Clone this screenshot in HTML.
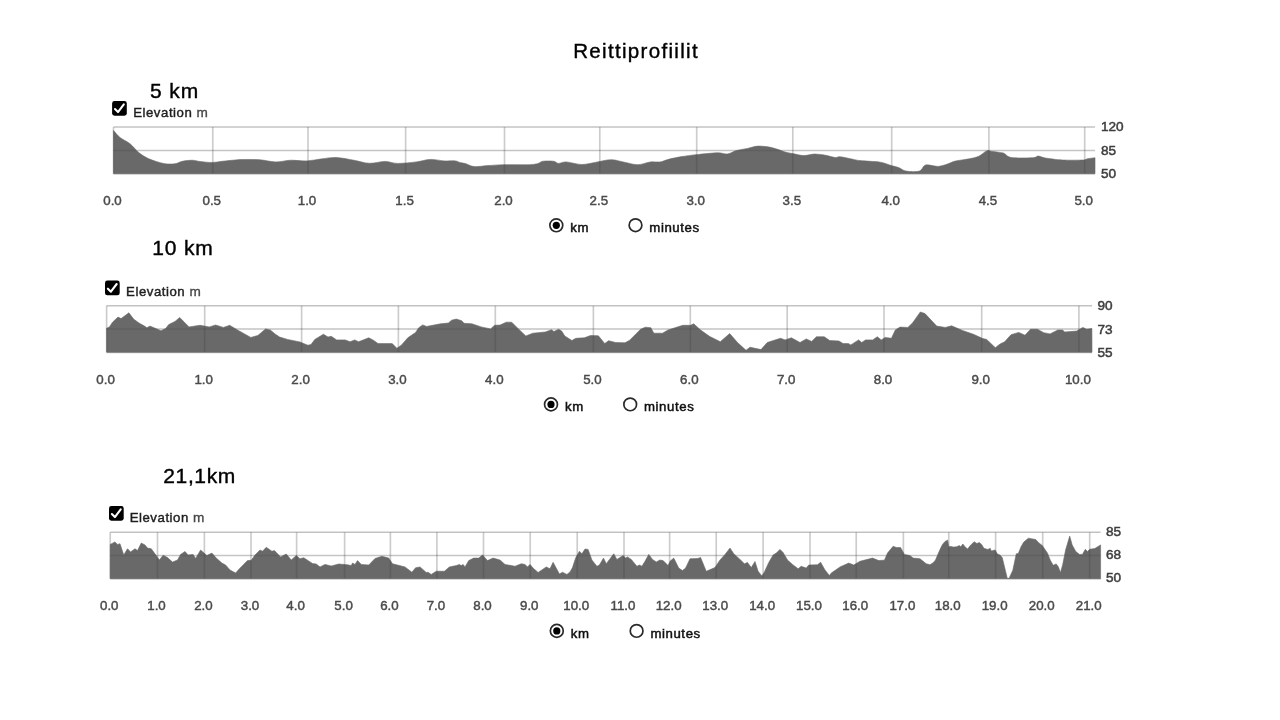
<!DOCTYPE html>
<html lang="fi">
<head>
<meta charset="utf-8">
<title>Reittiprofiilit</title>
<style>
html,body{margin:0;padding:0;background:#fff;}
body{width:1280px;height:720px;position:relative;overflow:hidden;font-family:"Liberation Sans",sans-serif;}
h1,h2{margin:0;font-weight:normal;-webkit-text-stroke:.4px #000;position:absolute;white-space:nowrap;color:#000;line-height:1;}
h1{font-size:20.5px;letter-spacing:1.32px;}
h2{font-size:21px;}
svg{position:absolute;left:0;top:0;filter:blur(.4px);}
h1,h2{filter:blur(.35px);}
svg text{font-family:"Liberation Sans",sans-serif;}
.xl text{font-size:13.3px;fill:#4a4a4a;stroke:#4a4a4a;stroke-width:.45px;text-anchor:middle;}
.yl text{font-size:13.6px;fill:#3e3e3e;stroke:#3e3e3e;stroke-width:.5px;}
.lg{font-size:13.2px;fill:#1e1e1e;stroke:#1e1e1e;stroke-width:.42px;letter-spacing:.54px;}
.lg tspan{fill:#484848;stroke:#484848;stroke-width:.36px;font-size:13.6px;}
.rl{font-size:13.2px;fill:#111;stroke:#111;stroke-width:.5px;letter-spacing:.6px;}
</style>
</head>
<body>
<h1 style="left:573.2px;top:41px">Reittiprofiilit</h1>
<h2 style="left:150px;top:79.8px;letter-spacing:0.9px">5 km</h2>
<h2 style="left:152.2px;top:237.4px;letter-spacing:0.85px">10 km</h2>
<h2 style="left:163.3px;top:465.4px;letter-spacing:0.62px">21,1km</h2>
<svg width="1280" height="720" viewBox="0 0 1280 720">
<g>
<line x1="113.5" y1="127.1" x2="1095" y2="127.1" stroke="#000" stroke-opacity="0.24" stroke-width="1.5"/>
<line x1="113.5" y1="150.4" x2="1095" y2="150.4" stroke="#000" stroke-opacity="0.17" stroke-width="1.5"/>
<line x1="113.5" y1="173.8" x2="1095" y2="173.8" stroke="#000" stroke-opacity="0.24" stroke-width="1.5"/>
<line x1="113.5" y1="127.1" x2="113.5" y2="173.4" stroke="#000" stroke-opacity=".105" stroke-width="1.7"/>
<line x1="212.75" y1="127.1" x2="212.75" y2="173.4" stroke="#000" stroke-opacity=".105" stroke-width="1.7"/>
<line x1="308" y1="127.1" x2="308" y2="173.4" stroke="#000" stroke-opacity=".105" stroke-width="1.7"/>
<line x1="405.6" y1="127.1" x2="405.6" y2="173.4" stroke="#000" stroke-opacity=".105" stroke-width="1.7"/>
<line x1="504.5" y1="127.1" x2="504.5" y2="173.4" stroke="#000" stroke-opacity=".105" stroke-width="1.7"/>
<line x1="599.8" y1="127.1" x2="599.8" y2="173.4" stroke="#000" stroke-opacity=".105" stroke-width="1.7"/>
<line x1="696.7" y1="127.1" x2="696.7" y2="173.4" stroke="#000" stroke-opacity=".105" stroke-width="1.7"/>
<line x1="792.8" y1="127.1" x2="792.8" y2="173.4" stroke="#000" stroke-opacity=".105" stroke-width="1.7"/>
<line x1="891.7" y1="127.1" x2="891.7" y2="173.4" stroke="#000" stroke-opacity=".105" stroke-width="1.7"/>
<line x1="988.9" y1="127.1" x2="988.9" y2="173.4" stroke="#000" stroke-opacity=".105" stroke-width="1.7"/>
<line x1="1084.7" y1="127.1" x2="1084.7" y2="173.4" stroke="#000" stroke-opacity=".105" stroke-width="1.7"/>
<path d="M113.5 173.7L113.5 130.6C114.54 131.7 117.36 135.4 120 137.5C122.64 139.6 127 141.35 130 143.75C133 146.15 135.75 150.1 138.75 152.5C141.75 154.9 144.75 156.99 148.75 158.75C152.75 160.51 159.55 162.7 163.75 163.5C167.95 164.3 172 164.11 175 163.75C178 163.39 179.7 161.81 182.5 161.25C185.3 160.69 189.7 160.21 192.5 160.25C195.3 160.29 196.8 161.14 200 161.5C203.2 161.86 208.9 162.54 212.5 162.5C216.1 162.46 218.9 161.65 222.5 161.25C226.1 160.85 231.8 160.28 235 160C238.2 159.72 238.5 159.53 242.5 159.5C246.5 159.47 254.7 159.42 260 159.8C265.3 160.18 270.64 161.84 275.6 161.9C280.56 161.96 285.98 160.36 291 160.2C296.02 160.04 301.96 161.13 307 160.9C312.04 160.67 317.78 159.29 322.5 158.75C327.22 158.21 331.5 157.27 336.5 157.5C341.5 157.73 348.49 159.27 353.75 160.2C359.01 161.13 364.4 163.11 369.4 163.3C374.4 163.49 380.5 161.38 385 161.4C389.5 161.42 392.5 163.32 397.5 163.4C402.5 163.48 411 162.54 416.25 161.9C421.5 161.26 425.8 159.56 430.3 159.4C434.8 159.24 440.4 160.66 444.4 160.9C448.4 161.14 452.8 160.64 455.3 160.9C457.8 161.16 458.29 162.04 460 162.5C461.71 162.96 463.76 163.09 466 163.75C468.24 164.41 470.48 166.3 474 166.6C477.52 166.9 483.24 165.9 488 165.6C492.76 165.3 497.23 164.84 503.75 164.7C510.27 164.56 523.27 164.91 528.75 164.7C534.23 164.49 535.75 163.95 538 163.4C540.25 162.85 540.28 161.59 542.8 161.25C545.32 160.91 551.25 160.91 553.75 161.25C556.25 161.59 556.4 163.3 558.4 163.4C560.4 163.5 562.49 161.72 566.25 161.9C570.01 162.08 576.9 164.5 581.9 164.5C586.9 164.5 592.76 162.67 597.5 161.9C602.24 161.13 607 159.6 611.5 159.7C616 159.8 621.36 161.7 625.6 162.5C629.84 163.3 634 164.8 638 164.7C642 164.6 647.08 162.33 650.6 161.9C654.12 161.47 656.99 162.45 660 162C663.01 161.55 665.9 159.96 669.4 159.1C672.9 158.24 677.64 157.3 681.9 156.6C686.16 155.9 690.26 155.31 696 154.7C701.74 154.09 712.81 152.91 717.8 152.8C722.79 152.69 724.19 154.37 727.2 154C730.21 153.63 733.35 151.4 736.6 150.5C739.85 149.6 744.01 149.1 747.5 148.4C750.99 147.7 754.4 146.2 758.4 146.1C762.4 146 768.24 146.86 772.5 147.8C776.76 148.74 781.75 151.07 785 152C788.25 152.93 789.8 153.02 792.8 153.6C795.8 154.18 800.25 155.54 803.75 155.6C807.25 155.66 811.2 154.05 814.7 154C818.2 153.95 822.35 154.74 825.6 155.3C828.85 155.86 832.74 157.28 835 157.5C837.26 157.72 837.2 156.5 839.7 156.7C842.2 156.9 847.35 158.13 850.6 158.75C853.85 159.37 855.25 160.05 860 160.6C864.75 161.15 875.3 161.4 880.3 162.2C885.3 163 888.26 164.72 891.25 165.6C894.24 166.48 896.64 166.82 899 167.7C901.36 168.58 902.74 170.56 906 171.1C909.26 171.64 916.26 172.08 919.4 171.1C922.54 170.12 922.62 165.75 925.6 165C928.58 164.25 934.5 166.56 938 166.4C941.5 166.24 944.73 164.85 947.5 164C950.27 163.15 951.8 161.94 955.3 161.1C958.8 160.26 965.65 159.53 969.4 158.75C973.15 157.97 976 157.51 978.75 156.25C981.5 154.99 984.6 151.7 986.6 150.9C988.6 150.1 988.79 150.95 991.25 151.25C993.71 151.55 999.85 152.4 1002 152.8C1004.15 153.2 1003.15 152.98 1004.7 153.75C1006.25 154.52 1007.2 156.97 1011.7 157.6C1016.2 158.23 1028.54 157.94 1032.8 157.7C1037.06 157.46 1036.3 156.05 1038.3 156.1C1040.3 156.15 1041.43 157.38 1045.3 158C1049.17 158.62 1056.5 159.68 1062.5 160C1068.5 160.32 1078.8 160.2 1082.8 160C1086.8 159.8 1085.55 159.12 1087.5 158.75C1089.45 158.38 1093.8 157.87 1095 157.7L1095 173.7Z" fill="#696969" stroke="#696969" stroke-width=".6" stroke-linejoin="round"/>
<line x1="113.5" y1="150.4" x2="1095" y2="150.4" stroke="#000" stroke-opacity=".08" stroke-width="1.5"/>
<line x1="113.5" y1="127.1" x2="113.5" y2="173.4" stroke="#000" stroke-opacity=".105" stroke-width="1.7"/>
<line x1="212.75" y1="127.1" x2="212.75" y2="173.4" stroke="#000" stroke-opacity=".105" stroke-width="1.7"/>
<line x1="308" y1="127.1" x2="308" y2="173.4" stroke="#000" stroke-opacity=".105" stroke-width="1.7"/>
<line x1="405.6" y1="127.1" x2="405.6" y2="173.4" stroke="#000" stroke-opacity=".105" stroke-width="1.7"/>
<line x1="504.5" y1="127.1" x2="504.5" y2="173.4" stroke="#000" stroke-opacity=".105" stroke-width="1.7"/>
<line x1="599.8" y1="127.1" x2="599.8" y2="173.4" stroke="#000" stroke-opacity=".105" stroke-width="1.7"/>
<line x1="696.7" y1="127.1" x2="696.7" y2="173.4" stroke="#000" stroke-opacity=".105" stroke-width="1.7"/>
<line x1="792.8" y1="127.1" x2="792.8" y2="173.4" stroke="#000" stroke-opacity=".105" stroke-width="1.7"/>
<line x1="891.7" y1="127.1" x2="891.7" y2="173.4" stroke="#000" stroke-opacity=".105" stroke-width="1.7"/>
<line x1="988.9" y1="127.1" x2="988.9" y2="173.4" stroke="#000" stroke-opacity=".105" stroke-width="1.7"/>
<line x1="1084.7" y1="127.1" x2="1084.7" y2="173.4" stroke="#000" stroke-opacity=".105" stroke-width="1.7"/>
<g class="xl"><text x="112.5" y="204.8">0.0</text><text x="211.75" y="204.8">0.5</text><text x="307" y="204.8">1.0</text><text x="404.6" y="204.8">1.5</text><text x="503.5" y="204.8">2.0</text><text x="598.8" y="204.8">2.5</text><text x="695.7" y="204.8">3.0</text><text x="791.8" y="204.8">3.5</text><text x="890.7" y="204.8">4.0</text><text x="987.9" y="204.8">4.5</text><text x="1083.7" y="204.8">5.0</text></g>
<g class="yl"><text x="1101" y="131.4">120</text><text x="1101" y="154.7">85</text><text x="1101" y="177.7">50</text></g>
<rect x="112.1" y="101" width="14.7" height="14.7" rx="2.4" fill="#000"/><path d="M115 109.1L118 112.1L123.8 104.4" fill="none" stroke="#fff" stroke-width="2.1" stroke-linecap="round" stroke-linejoin="round"/>
<text class="lg" x="133.2" y="116.9">Elevation <tspan>m</tspan></text>
<circle cx="556.3" cy="225.3" r="6.45" fill="#fff" stroke="#2a2a2a" stroke-width="1.7"/><circle cx="556.3" cy="225.3" r="3.6" fill="#000"/><text class="rl" x="570.3" y="232.3">km</text><circle cx="635.5" cy="225.2" r="6.35" fill="#fff" stroke="#2a2a2a" stroke-width="1.7"/><text class="rl" x="649.3" y="232.2">minutes</text>
</g>
<g>
<line x1="106.6" y1="305.8" x2="1092" y2="305.8" stroke="#000" stroke-opacity="0.24" stroke-width="1.5"/>
<line x1="106.6" y1="328.9" x2="1092" y2="328.9" stroke="#000" stroke-opacity="0.17" stroke-width="1.5"/>
<line x1="106.6" y1="352.4" x2="1092" y2="352.4" stroke="#000" stroke-opacity="0.24" stroke-width="1.5"/>
<line x1="106.6" y1="305.8" x2="106.6" y2="352" stroke="#000" stroke-opacity=".105" stroke-width="1.7"/>
<line x1="204.7" y1="305.8" x2="204.7" y2="352" stroke="#000" stroke-opacity=".105" stroke-width="1.7"/>
<line x1="301.6" y1="305.8" x2="301.6" y2="352" stroke="#000" stroke-opacity=".105" stroke-width="1.7"/>
<line x1="398.4" y1="305.8" x2="398.4" y2="352" stroke="#000" stroke-opacity=".105" stroke-width="1.7"/>
<line x1="495.3" y1="305.8" x2="495.3" y2="352" stroke="#000" stroke-opacity=".105" stroke-width="1.7"/>
<line x1="593.4" y1="305.8" x2="593.4" y2="352" stroke="#000" stroke-opacity=".105" stroke-width="1.7"/>
<line x1="690.3" y1="305.8" x2="690.3" y2="352" stroke="#000" stroke-opacity=".105" stroke-width="1.7"/>
<line x1="787.2" y1="305.8" x2="787.2" y2="352" stroke="#000" stroke-opacity=".105" stroke-width="1.7"/>
<line x1="884" y1="305.8" x2="884" y2="352" stroke="#000" stroke-opacity=".105" stroke-width="1.7"/>
<line x1="981.7" y1="305.8" x2="981.7" y2="352" stroke="#000" stroke-opacity=".105" stroke-width="1.7"/>
<line x1="1078.9" y1="305.8" x2="1078.9" y2="352" stroke="#000" stroke-opacity=".105" stroke-width="1.7"/>
<path d="M106.6 352.3L106.6 328.2 109.4 326.9 112.5 322.2 118 317.1 121.1 318.6 128.9 312.8 133.6 319.1 139 323 144.5 326.1 146.9 327.7 150 326.1 161 330.8 165.6 328.5 168.75 324.6 175 321.4 179.7 317.5 184.4 322.2 189 326.9 200 325.3 209.4 326.9 215.6 325 223.4 327.4 229.7 325.3 237.5 330 250.8 337.4 257.8 335.5 265.6 328.9 270.3 330 275 333.9 279.7 337.1 287.5 339.4 300 342 307.8 345.2 311 344.6 314.8 339.4 323.4 334.25 328 337 331.25 336.3 336.7 339.9 345.3 339.9 350 341.75 354.7 339.9 358.6 341.75 368.75 337.8 373.4 340.2 378 343.6 392.2 343.6 396.9 348.3 401.6 344.9 407.8 337.8 415.6 332.4 418.75 327.7 422.7 324.9 426.6 326.4 440.6 323.8 448.4 323 451.6 320.2 456.25 319.1 461.7 320.7 464 323.3 471.9 323.8 481.25 326.9 490.6 328.9 494.5 325.3 500 325.1 506.25 322.2 511.7 322.2 518.75 329.25 525.8 336 532.8 333.2 545.3 332 551.6 329.7 553.9 331.6 558.6 329.25 561.7 331.1 564.8 336 571.9 340.5 575.8 338.3 584.4 337.8 590.6 335.5 598.4 335.8 604.7 343.6 608.6 340.7 615.6 342.5 625 342.8 629.7 340.2 640.6 329.25 645.3 327.2 650.8 327.7 653.9 333.2 662.5 333.2 668 330 682.8 325.3 690.6 325.3 693.75 323.8 700 329.6 709.4 336.3 720.3 341.75 729.7 333.6 737.5 342.5 746 350.3 750 347.2 761 349.6 767.2 342.5 773.4 340.5 780.5 338.3 785.2 339.9 791.4 337.8 800 342.5 806.25 338.9 811.7 341.4 816.4 336.75 824.2 336.75 829.7 340.5 839 341 843 343.6 848.4 343.6 850.8 344.9 858.6 339.9 861.7 342.5 865.6 339.9 872.7 339.9 877.3 336.75 881.25 339.9 885.2 337.4 891.4 338.3 895.3 330 900 327.1 907.8 327.4 912.5 323 920.3 312 925 313.6 936.7 326.1 945.3 327.4 951.6 325.8 962.5 330.5 973.4 334.25 982.8 338.6 986.7 339.4 995.3 347.7 1000 344.1 1004.7 341.75 1011 334.7 1018.75 332.4 1025 335.2 1030.5 329.25 1037.5 329.25 1043.75 332.7 1050 333.9 1057.8 330 1062.5 330 1064.8 332 1076.6 331.1 1082.8 327.4 1086.7 329.25 1091.9 328.5L1092 352.3Z" fill="#696969" stroke="#696969" stroke-width=".6" stroke-linejoin="round"/>
<line x1="106.6" y1="328.9" x2="1092" y2="328.9" stroke="#000" stroke-opacity=".08" stroke-width="1.5"/>
<line x1="106.6" y1="305.8" x2="106.6" y2="352" stroke="#000" stroke-opacity=".105" stroke-width="1.7"/>
<line x1="204.7" y1="305.8" x2="204.7" y2="352" stroke="#000" stroke-opacity=".105" stroke-width="1.7"/>
<line x1="301.6" y1="305.8" x2="301.6" y2="352" stroke="#000" stroke-opacity=".105" stroke-width="1.7"/>
<line x1="398.4" y1="305.8" x2="398.4" y2="352" stroke="#000" stroke-opacity=".105" stroke-width="1.7"/>
<line x1="495.3" y1="305.8" x2="495.3" y2="352" stroke="#000" stroke-opacity=".105" stroke-width="1.7"/>
<line x1="593.4" y1="305.8" x2="593.4" y2="352" stroke="#000" stroke-opacity=".105" stroke-width="1.7"/>
<line x1="690.3" y1="305.8" x2="690.3" y2="352" stroke="#000" stroke-opacity=".105" stroke-width="1.7"/>
<line x1="787.2" y1="305.8" x2="787.2" y2="352" stroke="#000" stroke-opacity=".105" stroke-width="1.7"/>
<line x1="884" y1="305.8" x2="884" y2="352" stroke="#000" stroke-opacity=".105" stroke-width="1.7"/>
<line x1="981.7" y1="305.8" x2="981.7" y2="352" stroke="#000" stroke-opacity=".105" stroke-width="1.7"/>
<line x1="1078.9" y1="305.8" x2="1078.9" y2="352" stroke="#000" stroke-opacity=".105" stroke-width="1.7"/>
<g class="xl"><text x="105.6" y="383.8">0.0</text><text x="203.7" y="383.8">1.0</text><text x="300.6" y="383.8">2.0</text><text x="397.4" y="383.8">3.0</text><text x="494.3" y="383.8">4.0</text><text x="592.4" y="383.8">5.0</text><text x="689.3" y="383.8">6.0</text><text x="786.2" y="383.8">7.0</text><text x="883" y="383.8">8.0</text><text x="980.7" y="383.8">9.0</text><text x="1077.9" y="383.8">10.0</text></g>
<g class="yl"><text x="1097.4" y="310.4">90</text><text x="1097.4" y="333.5">73</text><text x="1097.4" y="356.6">55</text></g>
<rect x="105" y="280.6" width="14.7" height="14.7" rx="2.4" fill="#000"/><path d="M107.9 288.7L110.9 291.7L116.7 284" fill="none" stroke="#fff" stroke-width="2.1" stroke-linecap="round" stroke-linejoin="round"/>
<text class="lg" x="126.1" y="296">Elevation <tspan>m</tspan></text>
<circle cx="551" cy="404.4" r="6.45" fill="#fff" stroke="#2a2a2a" stroke-width="1.7"/><circle cx="551" cy="404.4" r="3.6" fill="#000"/><text class="rl" x="565" y="411.4">km</text><circle cx="630.2" cy="404.4" r="6.35" fill="#fff" stroke="#2a2a2a" stroke-width="1.7"/><text class="rl" x="644" y="411.4">minutes</text>
</g>
<g>
<line x1="110.25" y1="532.3" x2="1100.6" y2="532.3" stroke="#000" stroke-opacity="0.24" stroke-width="1.5"/>
<line x1="110.25" y1="555.4" x2="1100.6" y2="555.4" stroke="#000" stroke-opacity="0.17" stroke-width="1.5"/>
<line x1="110.25" y1="578.8" x2="1100.6" y2="578.8" stroke="#000" stroke-opacity="0.24" stroke-width="1.5"/>
<line x1="110.25" y1="532.3" x2="110.25" y2="578.4" stroke="#000" stroke-opacity=".105" stroke-width="1.7"/>
<line x1="157.5" y1="532.3" x2="157.5" y2="578.4" stroke="#000" stroke-opacity=".105" stroke-width="1.7"/>
<line x1="204.4" y1="532.3" x2="204.4" y2="578.4" stroke="#000" stroke-opacity=".105" stroke-width="1.7"/>
<line x1="251" y1="532.3" x2="251" y2="578.4" stroke="#000" stroke-opacity=".105" stroke-width="1.7"/>
<line x1="296.6" y1="532.3" x2="296.6" y2="578.4" stroke="#000" stroke-opacity=".105" stroke-width="1.7"/>
<line x1="344.6" y1="532.3" x2="344.6" y2="578.4" stroke="#000" stroke-opacity=".105" stroke-width="1.7"/>
<line x1="390.4" y1="532.3" x2="390.4" y2="578.4" stroke="#000" stroke-opacity=".105" stroke-width="1.7"/>
<line x1="436.9" y1="532.3" x2="436.9" y2="578.4" stroke="#000" stroke-opacity=".105" stroke-width="1.7"/>
<line x1="483.5" y1="532.3" x2="483.5" y2="578.4" stroke="#000" stroke-opacity=".105" stroke-width="1.7"/>
<line x1="530.25" y1="532.3" x2="530.25" y2="578.4" stroke="#000" stroke-opacity=".105" stroke-width="1.7"/>
<line x1="577.25" y1="532.3" x2="577.25" y2="578.4" stroke="#000" stroke-opacity=".105" stroke-width="1.7"/>
<line x1="624" y1="532.3" x2="624" y2="578.4" stroke="#000" stroke-opacity=".105" stroke-width="1.7"/>
<line x1="669.6" y1="532.3" x2="669.6" y2="578.4" stroke="#000" stroke-opacity=".105" stroke-width="1.7"/>
<line x1="716.25" y1="532.3" x2="716.25" y2="578.4" stroke="#000" stroke-opacity=".105" stroke-width="1.7"/>
<line x1="763.1" y1="532.3" x2="763.1" y2="578.4" stroke="#000" stroke-opacity=".105" stroke-width="1.7"/>
<line x1="810" y1="532.3" x2="810" y2="578.4" stroke="#000" stroke-opacity=".105" stroke-width="1.7"/>
<line x1="856.25" y1="532.3" x2="856.25" y2="578.4" stroke="#000" stroke-opacity=".105" stroke-width="1.7"/>
<line x1="903.4" y1="532.3" x2="903.4" y2="578.4" stroke="#000" stroke-opacity=".105" stroke-width="1.7"/>
<line x1="948.75" y1="532.3" x2="948.75" y2="578.4" stroke="#000" stroke-opacity=".105" stroke-width="1.7"/>
<line x1="995.6" y1="532.3" x2="995.6" y2="578.4" stroke="#000" stroke-opacity=".105" stroke-width="1.7"/>
<line x1="1042.7" y1="532.3" x2="1042.7" y2="578.4" stroke="#000" stroke-opacity=".105" stroke-width="1.7"/>
<line x1="1089.7" y1="532.3" x2="1089.7" y2="578.4" stroke="#000" stroke-opacity=".105" stroke-width="1.7"/>
<path d="M110.25 578.7L110.25 544.4 115 541.9 117.5 544.4 120 543.75 123.75 555 127.5 548.75 130.6 551.9 135 548.75 137.5 550.6 141.25 543.1 145 545 147.5 548.1 151.25 548.75 156.25 555.6 159.4 560 163.1 555.25 167.5 557.5 172.5 562.1 177.5 560 180.6 554.4 185 551.5 188.1 555 193.1 554.4 195.6 558.5 200.6 550 206.9 555.6 211.9 553.1 216.25 558.1 221.9 563.1 225.6 565 230 570 235.6 573.1 239.4 568.75 247.5 560.6 251.25 560.25 255 555 260 550 262.5 551.25 266.25 547.25 271.9 551.25 274.4 550.6 280.6 556.9 286.25 554 291.25 560 296.25 555.6 300 558.75 303.75 557.75 312.5 563.5 316.25 564 320 566.9 325 564.4 331.25 566 338.75 564 347.5 564.75 351.25 565.6 352.5 563.1 355 564.4 357.5 560.6 361.25 564.4 368.75 565 375 558.5 381.9 556.25 388.75 558.1 392.5 563.75 405 566.9 411.9 572.25 415.6 567.8 420 566.9 426.25 572.5 428 572.25 431.25 574.4 436.25 571.25 444.4 571.25 449.4 566.9 456.25 565.6 459.4 564.4 461.25 565.6 463.1 564.4 465 566.9 468.75 560.6 473.75 558.1 478.75 558.1 482.5 555 487.5 560.6 493.1 558.1 500 560 505 564.4 515 566.25 521.25 563.75 525 564.4 527.5 566.9 530 564.4 533.1 568.1 538.1 572.5 546.25 566.9 550 568.75 553.1 562.25 559.4 574 562.5 572.25 566.9 574.4 570 571.9 572.5 567.5 575.6 558.1 579.4 551.25 581.9 553.75 585 549 588.1 549.4 591.9 560 596.9 566.25 599.4 565 603.5 558.1 606.25 563.75 610 558.75 613.75 553.75 616.9 559.4 623.1 555.6 625.6 558.1 627.5 556.9 631.25 559.4 636.9 566.25 639.4 565 641.9 566.25 645 561.25 648.75 554.4 652.5 559.4 656.25 561.9 660 560 663.1 560.6 668.1 565.6 670 561.25 673.75 558.1 678.75 568.1 682.5 570.6 685.6 568.1 690 558.75 697.5 558.5 700.6 557.5 706.25 571.25 715 567.5 720 560 725 554.4 730 548.1 733.75 553.75 740 559.4 744.4 563.75 747.5 562.5 751.25 567.5 755 561.5 758.1 571.25 761.9 576 764.4 571.9 768.75 562.5 773.1 555 776.25 553.1 780 549.4 783.1 552.5 787.5 560 792.5 564.4 798.1 568.75 801.25 566.25 806.25 568.1 808.75 565 817.5 564.75 820.6 562.25 825 570 829.4 575.6 831.25 573.1 840 566.9 848.75 563.1 853.75 565 860 561.25 872.5 558.1 878.75 560.6 882.5 560.25 884.4 560.25 887.5 553.1 893.1 546.25 896.25 547.5 900.6 547.5 904.4 554.4 910 555.6 913.1 558.1 920 558.75 926.25 563.75 930 564.7 933.1 562.8 935.5 560 937.8 554.6 940.2 549.1 942.5 544.4 944.8 541.7 947.6 540.1 948.75 546.75 951.1 546.4 953.4 547.1 956.6 546.75 959.3 545.6 960.9 546.75 962.8 544 964.8 546.4 967.5 549.1 970.6 545.2 974.1 541.7 976.9 543.6 979.2 542.5 981.6 544.4 983.9 548.3 987.8 549.5 990.2 548.3 991.3 551 995.2 549.9 997.2 553.8 1000.3 555.3 1002.3 557.7 1007.3 578.4 1009 578.4 1012.8 570.2 1016.3 553.8 1018.3 553.4 1021 546.75 1023.75 542.1 1028.4 538.2 1035.7 539.5 1038.7 542.7 1042.3 545.6 1047.4 552.9 1050.3 560.2 1053.2 565.3 1056.2 563.9 1058.3 566.8 1060.5 572.6 1062.7 564.6 1065.6 550 1069.7 536.1 1072.2 544.9 1075.8 551.5 1079.5 554.4 1082.4 554.4 1085.3 549.3 1087.5 551.5 1089.7 549.3 1094.8 548.5 1100.6 544.9L1100.6 578.7Z" fill="#696969" stroke="#696969" stroke-width=".6" stroke-linejoin="round"/>
<line x1="110.25" y1="555.4" x2="1100.6" y2="555.4" stroke="#000" stroke-opacity=".08" stroke-width="1.5"/>
<line x1="110.25" y1="532.3" x2="110.25" y2="578.4" stroke="#000" stroke-opacity=".105" stroke-width="1.7"/>
<line x1="157.5" y1="532.3" x2="157.5" y2="578.4" stroke="#000" stroke-opacity=".105" stroke-width="1.7"/>
<line x1="204.4" y1="532.3" x2="204.4" y2="578.4" stroke="#000" stroke-opacity=".105" stroke-width="1.7"/>
<line x1="251" y1="532.3" x2="251" y2="578.4" stroke="#000" stroke-opacity=".105" stroke-width="1.7"/>
<line x1="296.6" y1="532.3" x2="296.6" y2="578.4" stroke="#000" stroke-opacity=".105" stroke-width="1.7"/>
<line x1="344.6" y1="532.3" x2="344.6" y2="578.4" stroke="#000" stroke-opacity=".105" stroke-width="1.7"/>
<line x1="390.4" y1="532.3" x2="390.4" y2="578.4" stroke="#000" stroke-opacity=".105" stroke-width="1.7"/>
<line x1="436.9" y1="532.3" x2="436.9" y2="578.4" stroke="#000" stroke-opacity=".105" stroke-width="1.7"/>
<line x1="483.5" y1="532.3" x2="483.5" y2="578.4" stroke="#000" stroke-opacity=".105" stroke-width="1.7"/>
<line x1="530.25" y1="532.3" x2="530.25" y2="578.4" stroke="#000" stroke-opacity=".105" stroke-width="1.7"/>
<line x1="577.25" y1="532.3" x2="577.25" y2="578.4" stroke="#000" stroke-opacity=".105" stroke-width="1.7"/>
<line x1="624" y1="532.3" x2="624" y2="578.4" stroke="#000" stroke-opacity=".105" stroke-width="1.7"/>
<line x1="669.6" y1="532.3" x2="669.6" y2="578.4" stroke="#000" stroke-opacity=".105" stroke-width="1.7"/>
<line x1="716.25" y1="532.3" x2="716.25" y2="578.4" stroke="#000" stroke-opacity=".105" stroke-width="1.7"/>
<line x1="763.1" y1="532.3" x2="763.1" y2="578.4" stroke="#000" stroke-opacity=".105" stroke-width="1.7"/>
<line x1="810" y1="532.3" x2="810" y2="578.4" stroke="#000" stroke-opacity=".105" stroke-width="1.7"/>
<line x1="856.25" y1="532.3" x2="856.25" y2="578.4" stroke="#000" stroke-opacity=".105" stroke-width="1.7"/>
<line x1="903.4" y1="532.3" x2="903.4" y2="578.4" stroke="#000" stroke-opacity=".105" stroke-width="1.7"/>
<line x1="948.75" y1="532.3" x2="948.75" y2="578.4" stroke="#000" stroke-opacity=".105" stroke-width="1.7"/>
<line x1="995.6" y1="532.3" x2="995.6" y2="578.4" stroke="#000" stroke-opacity=".105" stroke-width="1.7"/>
<line x1="1042.7" y1="532.3" x2="1042.7" y2="578.4" stroke="#000" stroke-opacity=".105" stroke-width="1.7"/>
<line x1="1089.7" y1="532.3" x2="1089.7" y2="578.4" stroke="#000" stroke-opacity=".105" stroke-width="1.7"/>
<g class="xl"><text x="109.25" y="610">0.0</text><text x="156.5" y="610">1.0</text><text x="203.4" y="610">2.0</text><text x="250" y="610">3.0</text><text x="295.6" y="610">4.0</text><text x="343.6" y="610">5.0</text><text x="389.4" y="610">6.0</text><text x="435.9" y="610">7.0</text><text x="482.5" y="610">8.0</text><text x="529.25" y="610">9.0</text><text x="576.25" y="610">10.0</text><text x="623" y="610">11.0</text><text x="668.6" y="610">12.0</text><text x="715.25" y="610">13.0</text><text x="762.1" y="610">14.0</text><text x="809" y="610">15.0</text><text x="855.25" y="610">16.0</text><text x="902.4" y="610">17.0</text><text x="947.75" y="610">18.0</text><text x="994.6" y="610">19.0</text><text x="1041.7" y="610">20.0</text><text x="1088.7" y="610">21.0</text></g>
<g class="yl"><text x="1105.9" y="535.9">85</text><text x="1105.9" y="559">68</text><text x="1105.9" y="582">50</text></g>
<rect x="109" y="506" width="14.7" height="14.7" rx="2.4" fill="#000"/><path d="M111.9 514.1L114.9 517.1L120.7 509.4" fill="none" stroke="#fff" stroke-width="2.1" stroke-linecap="round" stroke-linejoin="round"/>
<text class="lg" x="129.7" y="521.9">Elevation <tspan>m</tspan></text>
<circle cx="556.8" cy="630.9" r="6.45" fill="#fff" stroke="#2a2a2a" stroke-width="1.7"/><circle cx="556.8" cy="630.9" r="3.6" fill="#000"/><text class="rl" x="570.8" y="637.9">km</text><circle cx="636.6" cy="630.9" r="6.35" fill="#fff" stroke="#2a2a2a" stroke-width="1.7"/><text class="rl" x="650.4" y="637.9">minutes</text>
</g>
</svg>
</body>
</html>
